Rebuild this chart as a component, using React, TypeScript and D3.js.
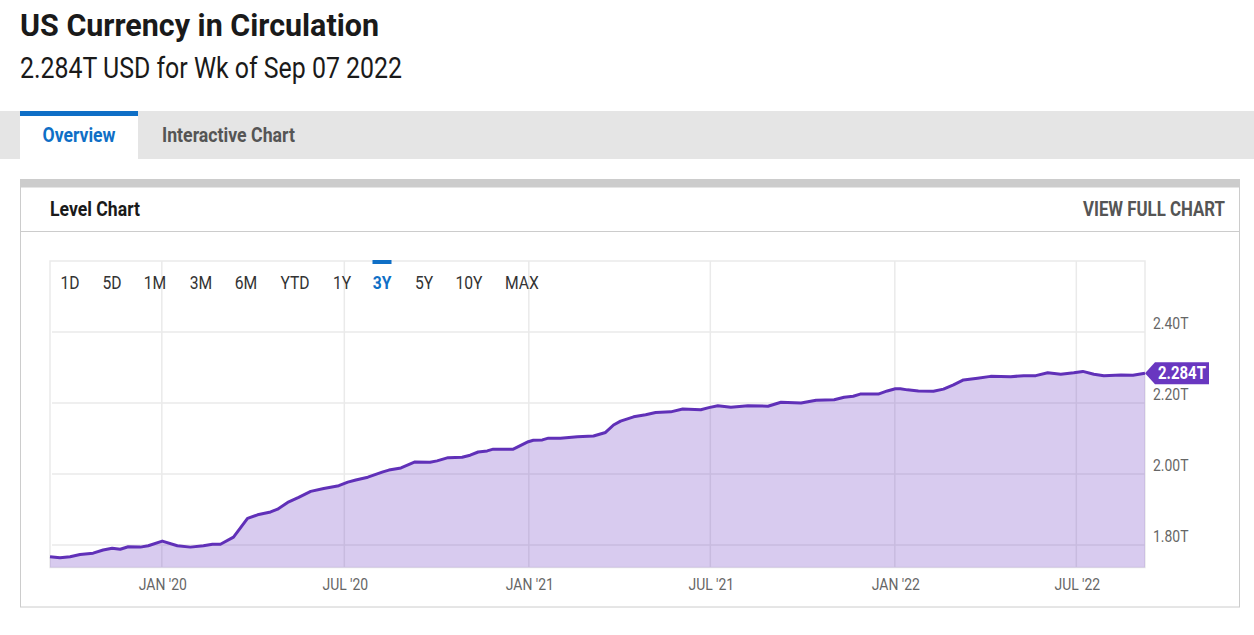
import React, { useRef, useEffect } from 'react';
import * as d3 from 'd3';

const dates = [
  '2019-09-11', '2019-09-21', '2019-10-01', '2019-10-11', '2019-10-24', '2019-11-03', '2019-11-12', '2019-11-20',
  '2019-11-28', '2019-12-10', '2019-12-18', '2020-01-01', '2020-01-16', '2020-01-29', '2020-02-11', '2020-02-20',
  '2020-02-28', '2020-03-12', '2020-03-26', '2020-04-05', '2020-04-18', '2020-04-25', '2020-05-05', '2020-05-16',
  '2020-05-28', '2020-06-10', '2020-06-25', '2020-07-04', '2020-07-12', '2020-07-24', '2020-08-08', '2020-08-14',
  '2020-08-26', '2020-09-09', '2020-09-24', '2020-10-01', '2020-10-12', '2020-10-26', '2020-11-03', '2020-11-11',
  '2020-11-20', '2020-11-26', '2020-12-16', '2020-12-31', '2021-01-05', '2021-01-14', '2021-01-20', '2021-02-01',
  '2021-02-18', '2021-03-06', '2021-03-18', '2021-03-26', '2021-04-02', '2021-04-15', '2021-04-27', '2021-05-07',
  '2021-05-22', '2021-06-03', '2021-06-21', '2021-06-29', '2021-07-08', '2021-07-21', '2021-08-07', '2021-08-27',
  '2021-09-09', '2021-09-29', '2021-10-14', '2021-11-01', '2021-11-11', '2021-11-20', '2021-11-27', '2021-12-15',
  '2021-12-24', '2022-01-01', '2022-01-06', '2022-01-13', '2022-01-24', '2022-02-08', '2022-02-18', '2022-02-28',
  '2022-03-10', '2022-03-24', '2022-04-06', '2022-04-26', '2022-05-09', '2022-05-21', '2022-06-02', '2022-06-15',
  '2022-06-28', '2022-07-07', '2022-07-18', '2022-07-28', '2022-08-14', '2022-08-26', '2022-09-07',
];

const levels = [
  1.767, 1.764, 1.767, 1.773, 1.777, 1.786, 1.791, 1.788,
  1.795, 1.794, 1.798, 1.811, 1.798, 1.794, 1.798, 1.802,
  1.802, 1.822, 1.875, 1.885, 1.893, 1.901, 1.92, 1.934,
  1.951, 1.959, 1.967, 1.977, 1.983, 1.991, 2.006, 2.011,
  2.017, 2.034, 2.033, 2.037, 2.046, 2.047, 2.053, 2.062,
  2.065, 2.07, 2.07, 2.091, 2.095, 2.096, 2.101, 2.101,
  2.105, 2.107, 2.117, 2.138, 2.149, 2.161, 2.167, 2.173,
  2.175, 2.183, 2.181, 2.187, 2.192, 2.188, 2.192, 2.191,
  2.202, 2.2, 2.208, 2.209, 2.216, 2.219, 2.225, 2.225,
  2.234, 2.24, 2.24, 2.237, 2.234, 2.233, 2.239, 2.251,
  2.265, 2.27, 2.275, 2.274, 2.277, 2.277, 2.285, 2.281,
  2.285, 2.289, 2.281, 2.277, 2.279, 2.278, 2.284,
];

const yTicks = [1.8, 2.0, 2.2, 2.4];
const xTicks = ['2020-01-01', '2020-07-01', '2021-01-01', '2021-07-01', '2022-01-01', '2022-07-01'];
const ranges = ['1D', '5D', '1M', '3M', '6M', 'YTD', '1Y', '3Y', '5Y', '10Y', 'MAX'];
const rangeCenters = [70, 112, 155, 201, 246, 295, 342, 382, 424, 469, 522];
const activeRange = '3Y';

const FONT = 'Roboto, sans-serif';
const BLUE = '#0f6fc6';
const PURPLE = '#6030b8';
const GRID = '#eaeaea';
const CONDENSED = 0.87;

const parse = d3.timeParse('%Y-%m-%d');

// no Roboto Condensed installed, so squeeze regular Roboto to the same width
function condense(sel: any, width?: number) {
  sel.each(function (this: SVGTextElement) {
    const w = width ?? this.getComputedTextLength() * CONDENSED;
    this.setAttribute('textLength', String(w));
    this.setAttribute('lengthAdjust', 'spacingAndGlyphs');
  });
}

const App: React.FC = () => {
  const svgRef = useRef<SVGSVGElement | null>(null);

  useEffect(() => {
    if (!svgRef.current) return;
    const W = 1254;
    const H = 635;
    const plot = { left: 50, right: 1145, top: 261, bottom: 567.5 };

    const svg = d3.select(svgRef.current);
    svg.selectAll('*').remove();
    svg.attr('width', W).attr('height', H).style('position', 'absolute').style('left', 0).style('top', 0).style('background', '#fff');

    const text = (s: string, x: number, y: number, size: number, weight: number, fill: string, anchor = 'start', width?: number) =>
      svg
        .append('text')
        .text(s)
        .attr('x', x)
        .attr('y', y)
        .attr('font-family', FONT)
        .attr('font-size', size)
        .attr('font-weight', weight)
        .attr('fill', fill)
        .attr('text-anchor', anchor)
        .call(condense, width);
    const box = (x: number, y: number, w: number, h: number, fill: string) =>
      svg.append('rect').attr('x', x).attr('y', y).attr('width', w).attr('height', h).attr('fill', fill);

    // header
    text('US Currency in Circulation', 20, 36, 32, 700, '#1a1a1a', 'start', 359);
    text('2.284T USD for Wk of Sep 07 2022', 20, 78, 29, 400, '#1a1a1a', 'start', 382);

    // tabs
    box(0, 111, W, 48, '#e5e5e5');
    box(20, 111, 118, 48, '#fff');
    box(20, 111, 118, 5, BLUE);
    text('Overview', 79, 142, 20, 700, BLUE, 'middle', 73);
    text('Interactive Chart', 162, 142, 20, 700, '#555', 'start', 133);

    // panel
    svg.append('rect').attr('x', 20.5).attr('y', 187).attr('width', 1219).attr('height', 420).attr('fill', '#fff').attr('stroke', '#ccc');
    box(20, 179, 1220, 8, '#ccc');
    svg.append('line').attr('x1', 20).attr('x2', 1240).attr('y1', 231.5).attr('y2', 231.5).attr('stroke', '#ccc');
    text('Level Chart', 50, 216, 20, 700, '#1a1a1a', 'start', 90);
    text('VIEW FULL CHART', 1225, 216, 20, 700, '#555', 'end', 142);

    // scales
    const data = dates.map((d, i) => ({ date: parse(d)!, value: levels[i] }));
    const x = d3.scaleTime().domain(d3.extent(data, (d) => d.date) as [Date, Date]).range([plot.left, plot.right]);
    const y = d3.scaleLinear().domain([1.7366, 2.6]).range([plot.bottom, plot.top]);

    // plot frame
    svg
      .append('rect')
      .attr('x', plot.left)
      .attr('y', plot.top)
      .attr('width', plot.right - plot.left)
      .attr('height', plot.bottom - plot.top)
      .attr('fill', 'none')
      .attr('stroke', GRID)
      .attr('stroke-width', 1.5);

    // grid
    const tickDates = xTicks.map((d) => parse(d)!);
    svg
      .append('g')
      .selectAll('line')
      .data(yTicks)
      .enter()
      .append('line')
      .attr('x1', plot.left + 2)
      .attr('x2', plot.right)
      .attr('y1', (d) => y(d))
      .attr('y2', (d) => y(d))
      .attr('stroke', GRID)
      .attr('stroke-width', 1.5);
    svg
      .append('g')
      .selectAll('line')
      .data(tickDates)
      .enter()
      .append('line')
      .attr('x1', (d) => x(d) - 0.5)
      .attr('x2', (d) => x(d) - 0.5)
      .attr('y1', plot.top)
      .attr('y2', plot.bottom)
      .attr('stroke', GRID)
      .attr('stroke-width', 1.5);

    // area + line
    const area = d3
      .area<{ date: Date; value: number }>()
      .x((d) => x(d.date))
      .y0(plot.bottom)
      .y1((d) => y(d.value));
    const line = d3
      .line<{ date: Date; value: number }>()
      .x((d) => x(d.date))
      .y((d) => y(d.value));
    svg.append('path').attr('d', area(data)).attr('fill', '#6937c0').attr('fill-opacity', 0.26);
    svg
      .append('path')
      .attr('d', line(data))
      .attr('fill', 'none')
      .attr('stroke', PURPLE)
      .attr('stroke-width', 3)
      .attr('stroke-linejoin', 'round');

    // axes
    const xAxis = d3
      .axisBottom(x)
      .tickValues(tickDates)
      .tickSize(0)
      .tickPadding(11)
      .tickFormat((d) => d3.timeFormat("%b '%y")(d as Date).toUpperCase());
    const xAxisG = svg.append('g').attr('transform', `translate(0,${plot.bottom})`).call(xAxis);
    const yAxis = d3.axisRight(y).tickValues(yTicks).tickSize(0).tickPadding(8).tickFormat((d) => `${d3.format('.2f')(d as number)}T`);
    const yAxisG = svg.append('g').attr('transform', `translate(${plot.right},-8.5)`).call(yAxis);
    [xAxisG, yAxisG].forEach((g) => {
      g.select('.domain').remove();
      g.selectAll('text').attr('font-family', FONT).attr('font-size', 16).attr('fill', '#666').call(condense);
    });

    // range selector
    ranges.forEach((r, i) => {
      const active = r === activeRange;
      text(r, rangeCenters[i], 289, 18, active ? 700 : 400, active ? BLUE : '#333', 'middle');
      if (active) box(rangeCenters[i] - 9.5, 260, 19, 4, BLUE);
    });

    // last value tag
    const last = data[data.length - 1];
    const ty = y(last.value);
    svg
      .append('path')
      .attr('d', d3.line()([[plot.right, ty], [plot.right + 10, ty - 11], [1209, ty - 11], [1209, ty + 11], [plot.right + 10, ty + 11]]) + 'Z')
      .attr('fill', '#6937c0');
    text(`${last.value}T`, 1182, ty + 6, 18, 700, '#fff', 'middle', 48);
  }, []);

  return <svg ref={svgRef} />;
};

export default App;
